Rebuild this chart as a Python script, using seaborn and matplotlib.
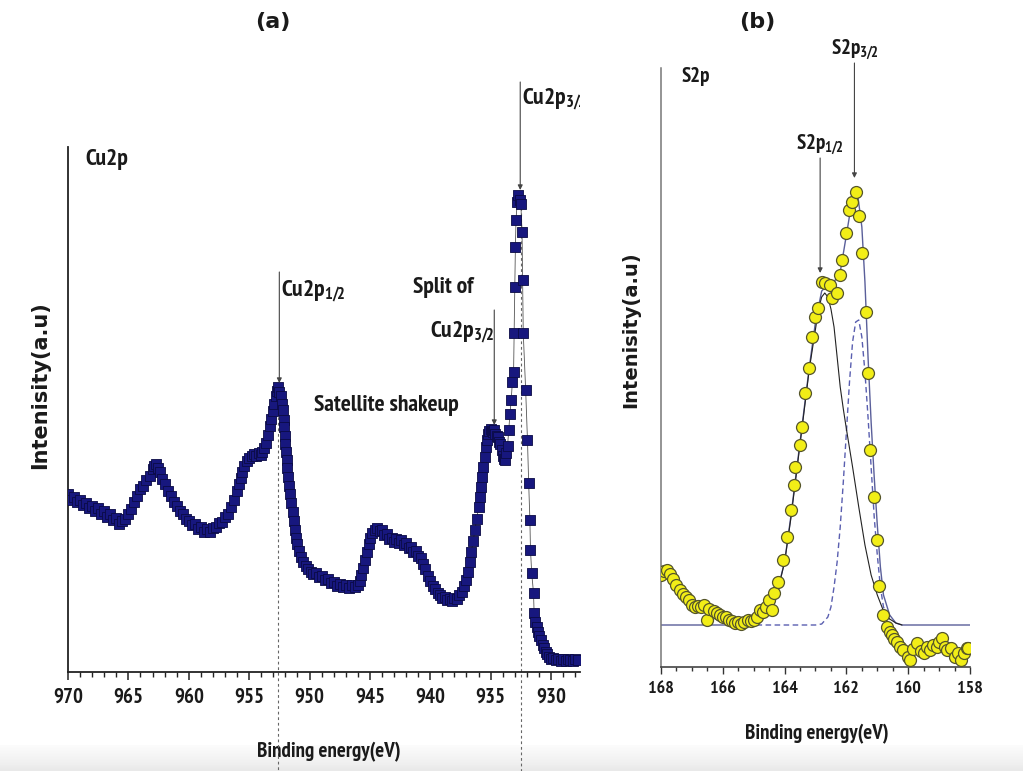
import numpy as np
import pandas as pd
import matplotlib
matplotlib.use("Agg")
import matplotlib.pyplot as plt
import seaborn as sns
from matplotlib.transforms import Bbox, TransformedBbox

# ---------------- data: panel (a) Cu2p ----------------
cu_energy = [970.0, 969.75, 969.5, 969.25, 969.0, 968.75, 968.5, 968.25, 968.0, 967.75,
             967.5, 967.25, 967.0, 966.75, 966.5, 966.25, 966.0, 965.75, 965.5, 965.25,
             965.0, 964.75, 964.5, 964.25, 964.0, 963.75, 963.5, 963.25, 963.0, 962.85,
             962.7, 962.55, 962.4, 962.2, 962.0, 961.75, 961.5, 961.25, 961.0, 960.75,
             960.5, 960.25, 960.0, 959.75, 959.5, 959.25, 959.0, 958.75, 958.5, 958.25,
             958.0, 957.75, 957.5, 957.25, 957.0, 956.75, 956.5, 956.25, 956.0, 955.85,
             955.7, 955.55, 955.4, 955.2, 955.0, 954.8, 954.6, 954.4, 954.2, 954.0,
             953.9, 953.75, 953.6, 953.45, 953.3, 953.15, 953.0, 952.9, 952.8, 952.7,
             952.6, 952.5, 952.4, 952.3, 952.2, 952.15, 952.1, 952.05, 952.0, 951.95,
             951.9, 951.85, 951.8, 951.7, 951.6, 951.5, 951.4, 951.3, 951.2, 951.1,
             951.0, 950.85, 950.7, 950.5, 950.3, 950.1, 949.9, 949.7, 949.5, 949.25,
             949.0, 948.75, 948.5, 948.25, 948.0, 947.75, 947.5, 947.25, 947.0, 946.75,
             946.5, 946.25, 946.0, 945.85, 945.7, 945.55, 945.4, 945.25, 945.1, 944.95,
             944.8, 944.6, 944.4, 944.2, 944.0, 943.8, 943.6, 943.4, 943.2, 943.0,
             942.8, 942.6, 942.4, 942.2, 942.0, 941.8, 941.6, 941.4, 941.2, 941.0,
             940.8, 940.6, 940.4, 940.2, 940.0, 939.8, 939.6, 939.4, 939.2, 939.0,
             938.8, 938.6, 938.4, 938.2, 938.0, 937.8, 937.6, 937.4, 937.2, 937.05,
             936.9, 936.75, 936.6, 936.45, 936.3, 936.15, 936.0, 935.9, 935.8, 935.7,
             935.6, 935.5, 935.4, 935.3, 935.2, 935.1, 935.0, 934.9, 934.8, 934.7,
             934.6, 934.5, 934.4, 934.3, 934.2, 934.1, 934.0, 933.9, 933.8, 933.7,
             933.6, 933.5, 933.4, 933.3, 933.2, 933.1, 933.05, 933.0, 932.95, 932.9,
             932.8, 932.7, 932.6, 932.5, 932.4, 932.35, 932.3, 932.1, 931.95, 931.85,
             931.75, 931.7, 931.6, 931.45, 931.4, 931.3, 931.2, 931.1, 931.0, 930.85,
             930.7, 930.6, 930.45, 930.3, 930.15, 930.0, 929.8, 929.6, 929.4, 929.2,
             929.0, 928.8, 928.6, 928.4, 928.2, 928.0, 927.8]
cu_intensity = [178, 172, 175, 170, 172, 167, 169, 164, 166, 161,
                164, 158, 161, 155, 158, 152, 154, 148, 151, 153,
                158, 163, 170, 176, 183, 186, 192, 196, 203, 206,
                208, 204, 200, 193, 188, 181, 176, 170, 166, 161,
                158, 153, 151, 147, 148, 143, 145, 140, 143, 140,
                144, 145, 149, 150, 155, 158, 165, 172, 181, 188,
                194, 200, 206, 211, 214, 216, 218, 216, 219, 217,
                220, 224, 229, 237, 246, 253, 261, 268, 276, 281,
                285, 280, 276, 268, 262, 252, 245, 236, 228, 220,
                212, 204, 195, 186, 178, 169, 160, 151, 142, 134,
                128, 121, 115, 110, 106, 103, 100, 98, 99, 95,
                96, 92, 93, 89, 90, 86, 88, 85, 87, 84,
                87, 85, 87, 91, 97, 104, 112, 120, 128, 134,
                139, 142, 144, 141, 142, 137, 138, 133, 134, 130,
                133, 129, 132, 127, 129, 124, 125, 120, 121, 116,
                114, 108, 103, 96, 91, 86, 83, 79, 77, 74,
                75, 72, 73, 71, 74, 73, 77, 80, 86, 92,
                100, 110, 120, 131, 142, 153, 165, 175, 185, 195,
                205, 215, 225, 232, 238, 241, 243, 241, 240, 242,
                238, 236, 235, 230, 228, 222, 216, 213, 212, 219,
                226, 242, 258, 272, 290, 300, 339, 385, 425, 452,
                470, 477, 472, 468, 440, 392, 339, 282, 232, 189,
                152, 122, 99, 79, 59, 50, 45, 40, 36, 32,
                27, 24, 20, 18, 15, 13, 14, 12, 13, 11,
                13, 11, 13, 12, 11, 13, 12]

# ---------------- data: panel (b) S2p ----------------
s_energy = [168.0, 167.9, 167.8, 167.7, 167.6, 167.5, 167.4, 167.3, 167.2, 167.1,
            167.0, 166.9, 166.8, 166.7, 166.6, 166.5, 166.45, 166.3, 166.2, 166.1,
            166.0, 165.9, 165.8, 165.7, 165.6, 165.5, 165.4, 165.3, 165.2, 165.1,
            165.0, 164.9, 164.8, 164.7, 164.6, 164.5, 164.4, 164.35, 164.2, 164.05,
            163.93, 163.8, 163.7, 163.65, 163.5, 163.43, 163.34, 163.2, 163.1, 163.02,
            162.91, 162.8, 162.69, 162.53, 162.48, 162.31, 162.21, 162.13, 162.01, 161.91,
            161.83, 161.7, 161.6, 161.51, 161.38, 161.3, 161.24, 161.1, 161.02, 160.95,
            160.83, 160.7, 160.6, 160.53, 160.45, 160.37, 160.25, 160.16, 160.0, 159.94,
            159.85, 159.73, 159.6, 159.5, 159.4, 159.3, 159.2, 159.08, 159.0, 158.9,
            158.8, 158.75, 158.6, 158.5, 158.4, 158.3, 158.2, 158.1, 158.05]
s_intensity = [92, 96, 97, 93, 88, 82, 77, 73, 70, 67,
               62, 60, 61, 60, 62, 47, 58, 56, 54, 52,
               50, 50, 47, 46, 44, 45, 43, 45, 47, 46,
               47, 50, 57, 55, 60, 67, 57, 74, 85, 107,
               130, 157, 182, 200, 222, 240, 274, 299, 330, 350,
               359, 385, 384, 382, 369, 374, 392, 407, 434, 457,
               465, 475, 451, 414, 355, 294, 217, 170, 127, 81,
               52, 40, 35, 32, 28, 25, 20, 17, 10, 7,
               18, 24, 16, 14, 20, 17, 22, 20, 25, 29,
               20, 17, 19, 10, 14, 7, 14, 19, 19]

# fit curves
env_energy = [168.0, 165.5, 165.0, 164.6, 164.3, 164.0, 163.8, 163.6, 163.4, 163.2,
              163.0, 162.8, 162.6, 162.4, 162.2, 162.0, 161.8, 161.65, 161.5, 161.4,
              161.3, 161.2, 161.1, 161.0, 160.9, 160.8, 160.6, 160.4, 160.2, 158.0]
env_intensity = [42, 42, 44, 52, 68, 105, 150, 200, 250, 300,
                 345, 376, 382, 385, 395, 432, 470, 476, 440, 385,
                 310, 245, 190, 142, 100, 72, 52, 44, 42, 42]
p32_energy = [165.2, 163.0, 162.8, 162.6, 162.5, 162.4, 162.3, 162.2, 162.1, 162.0,
              161.9, 161.8, 161.7, 161.6, 161.5, 161.4, 161.3, 161.2, 161.1, 161.0,
              160.9, 160.8, 160.6]
p32_intensity = [42, 42, 43, 50, 60, 80, 105, 140, 185, 235,
                 285, 325, 345, 347, 330, 295, 250, 200, 150, 112,
                 80, 60, 47]
p12_energy = [164.6, 164.3, 164.0, 163.8, 163.6, 163.4, 163.2, 163.0, 162.9, 162.8,
              162.7, 162.6, 162.5, 162.4, 162.3, 162.2, 162.1, 162.0, 161.8, 161.6,
              161.4, 161.2, 161.0, 160.8, 160.6, 160.4, 160.2]
p12_intensity = [50, 66, 105, 148, 198, 248, 298, 338, 358, 370,
                 374, 370, 358, 340, 310, 280, 258, 238, 200, 160,
                 122, 92, 72, 56, 48, 44, 42]

cu_df = pd.DataFrame({"energy": cu_energy, "intensity": cu_intensity})
s_df = pd.DataFrame({"energy": s_energy, "intensity": s_intensity})
env_df = pd.DataFrame({"energy": env_energy, "intensity": env_intensity})
p32_df = pd.DataFrame({"energy": p32_energy, "intensity": p32_intensity})
p12_df = pd.DataFrame({"energy": p12_energy, "intensity": p12_intensity})

# ---------------- style ----------------
sns.set_theme(style="white")
FONT = ["PT Sans Narrow", "Open Sans Condensed", "DejaVu Sans"]
WIDE = ["DejaVu Sans"]
plt.rcParams["font.family"] = FONT
plt.rcParams["font.weight"] = "bold"
plt.rcParams["axes.labelweight"] = "bold"
plt.rcParams["mathtext.default"] = "regular"
TXT = "#1a1a1a"

fig = plt.figure(figsize=(10.23, 7.71), dpi=100)
W, H = 1023, 771

def px_axes(l, t, r, b):
    return fig.add_axes([l / W, 1 - b / H, (r - l) / W, (b - t) / H])

# faint grey band at the bottom of the screenshot
bg = fig.add_axes([0, 0, 1, 26 / H], zorder=-5)
bg.imshow(np.linspace(0, 1, 50).reshape(-1, 1) * np.ones((1, 2)), cmap="Greys",
          vmin=-0.2, vmax=7, aspect="auto", origin="upper")
bg.axis("off")

axA = px_axes(68, 147, 580, 672)
axB = px_axes(661, 68, 970, 667)

arrow_kw = dict(arrowstyle="-|>", color="#444444", lw=0.8, mutation_scale=7,
                shrinkA=0, shrinkB=0)

# ---------------- panel (a) ----------------
sns.lineplot(data=cu_df, x="energy", y="intensity", sort=False, ax=axA,
             color="#555555", lw=0.6, zorder=2)
sns.scatterplot(data=cu_df, x="energy", y="intensity", ax=axA, marker="s",
                s=52, color="#17177e", edgecolor="#0b0b45", linewidth=0.6, zorder=3)
axA.set_xlim(970, 927.6)
axA.set_ylim(0, 525)
axA.set_xticks(np.arange(970, 927, -5))
axA.set_xticks(np.arange(970, 927, -1), minor=True)
axA.set_yticks([])
for s in ["top", "right"]:
    axA.spines[s].set_visible(False)
for s in ["left", "bottom"]:
    axA.spines[s].set_color("#222222")
    axA.spines[s].set_linewidth(1.3)
axA.tick_params(axis="x", which="major", direction="out", length=6, width=1.1,
                colors="#222222", labelcolor=TXT, labelsize=15, pad=5, bottom=True)
axA.tick_params(axis="x", which="minor", direction="out", length=3.5, width=1.0,
                colors="#222222", bottom=True)
axA.set_xlabel("Binding energy(eV)", fontsize=15, color=TXT)
axA.xaxis.set_label_coords(0.51, -0.133)
axA.set_ylabel("Intenisity(a.u)", fontsize=15, fontweight="bold", color=TXT,
               family=WIDE)
axA.yaxis.set_label_coords(-0.035, 0.547)
axA.text(0.40, 1.238, "(a)", transform=axA.transAxes, ha="center", va="center",
         fontsize=16, fontweight="bold", color=TXT, family=WIDE)

# vertical guide lines through the main peaks (extend below axes)
guide_a = [(952.6, 283), (932.5, 470)]
for e, top in guide_a:
    axA.plot([e, e], [top, -99], ls=(0, (2.5, 2.5)), color="#666666", lw=0.8,
             clip_on=False, zorder=1)

fs = 17
axA.text(968.6, 512, "Cu2p", fontsize=fs, ha="left", va="center", color=TXT)
axA.annotate("", xy=(952.5, 289), xytext=(952.5, 400), arrowprops=arrow_kw,
             annotation_clip=False)
axA.text(952.33, 381, "Cu2p$_{1/2}$", fontsize=fs, ha="left", va="center", color=TXT)
axA.annotate("", xy=(934.7, 247), xytext=(934.7, 362), arrowprops=arrow_kw,
             annotation_clip=False)
axA.text(938.9, 384, "Split of", fontsize=fs, ha="center", va="center", color=TXT)
axA.text(934.65, 340, "Cu2p$_{3/2}$", fontsize=fs, ha="right", va="center", color=TXT)
axA.text(949.6, 267, "Satellite shakeup", fontsize=fs, ha="left", va="center", color=TXT)
axA.annotate("", xy=(932.55, 482), xytext=(932.55, 590), arrowprops=arrow_kw,
             annotation_clip=False)
t = axA.text(932.4, 573, "Cu2p$_{3/2}$", fontsize=fs, ha="left", va="center", color=TXT)
t.set_clip_box(TransformedBbox(Bbox([[0, 0], [1, 1.6]]), axA.transAxes))
t.set_clip_on(True)

# ---------------- panel (b) ----------------
sns.lineplot(data=env_df, x="energy", y="intensity", sort=False, ax=axB,
             color="#5a5f9a", lw=1.0, zorder=2)
sns.lineplot(data=p32_df, x="energy", y="intensity", sort=False, ax=axB,
             color="#5a5fb0", lw=1.0, ls=(0, (4, 2.5)), zorder=2.1)
sns.lineplot(data=p12_df, x="energy", y="intensity", sort=False, ax=axB,
             color="#222222", lw=0.8, zorder=2.2)
sns.scatterplot(data=s_df, x="energy", y="intensity", ax=axB, marker="o",
                s=74, color="#f2ee17", edgecolor="#55552a", linewidth=0.9, zorder=3)
axB.set_xlim(168, 158)
axB.set_ylim(0, 599)
axB.set_xticks(np.arange(168, 157.9, -2))
axB.set_xticks(np.arange(168, 157.9, -0.5), minor=True)
axB.set_yticks([])
for s in ["top", "right"]:
    axB.spines[s].set_visible(False)
axB.spines["left"].set_color("#777777")
axB.spines["bottom"].set_color("#444444")
axB.spines["left"].set_linewidth(1.1)
axB.spines["bottom"].set_linewidth(1.2)
axB.tick_params(axis="x", which="major", direction="out", length=5, width=1.0,
                colors="#333333", labelcolor=TXT, labelsize=13, pad=5, bottom=True)
axB.tick_params(axis="x", which="minor", direction="out", length=3, width=1.0,
                colors="#333333", bottom=True)
axB.set_xlabel("Binding energy(eV)", fontsize=15, color=TXT)
axB.xaxis.set_label_coords(0.505, -0.095)
axB.set_ylabel("Intenisity(a.u)", fontsize=14, fontweight="bold", color=TXT,
               family=WIDE)
axB.yaxis.set_label_coords(-0.068, 0.563)
axB.text(0.311, 1.077, "(b)", transform=axB.transAxes, ha="center", va="center",
         fontsize=16, fontweight="bold", color=TXT, family=WIDE)

fsb = 15
axB.text(167.35, 590, "S2p", fontsize=fsb, ha="left", va="center", color=TXT)
axB.annotate("", xy=(161.74, 489), xytext=(161.74, 604), arrowprops=arrow_kw,
             annotation_clip=False)
axB.text(161.72, 617, "S2p$_{3/2}$", fontsize=fsb, ha="center", va="center", color=TXT)
axB.annotate("", xy=(162.85, 394), xytext=(162.85, 509), arrowprops=arrow_kw,
             annotation_clip=False)
axB.text(162.85, 522, "S2p$_{1/2}$", fontsize=fsb, ha="center", va="center", color=TXT)

fig.savefig("out.png", dpi=100)
